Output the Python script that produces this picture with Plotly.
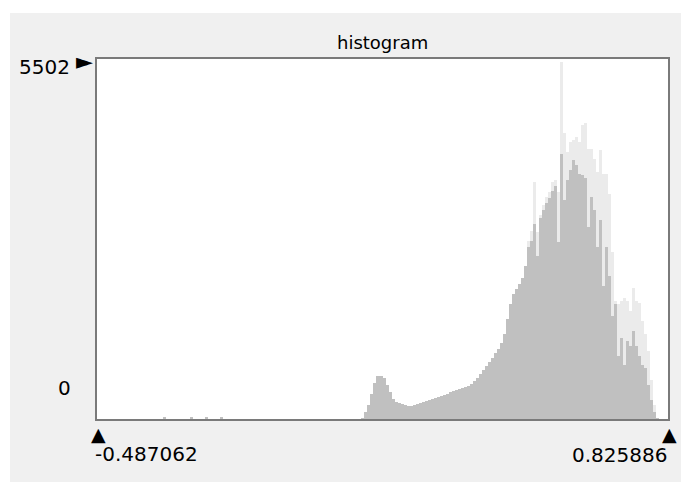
import numpy as np
import plotly.graph_objects as go

# ---- data ----
range_lo = -0.487062
range_hi = 0.825886
y_max_label = 5502
n_bins = 190

# counts per bin (solid grey), left to right
counts = ([0] * 22 + [20] + [0] * 8 + [20] + [0] * 4 + [20] + [0] * 4 + [20] + [0] * 46 +
          [15, 107, 214, 382, 550, 657, 657, 626, 520, 413,
           306, 260, 244, 229, 214, 199, 199, 214, 229, 244,
           260, 275, 290, 306, 321, 336, 352, 367, 382, 413,
           428, 443, 458, 474, 489, 504, 535, 581, 626, 687,
           749, 810, 886, 947, 1024, 1085, 1177, 1314, 1543, 1772,
           1925, 2002, 2078, 2170, 2353,
           2659, 2750, 3010, 2506, 3102, 3224, 3331, 3407, 3514, 3590,
           2735, 4079, 3377, 3682, 3835, 3988, 3912, 3774, 3759, 3713,
           2964, 3423, 3224, 2659, 3071, 2048, 2659, 2200, 1589, 1772,
           978, 1253, 825, 1207, 1131, 1360, 1131, 978, 825, 779,
           520, 290, 107, 15] + [0] * 3)

# per-bin peak (light fringe of sub-pixel spikes)
peaks = ([0] * 143 +
         [2750, 2900, 3652, 2888, 3150, 3300, 3420, 3500, 3652, 3682,
          3499, 5502, 4416, 4110, 4263, 4294, 4340, 4263, 4538, 4569,
          4156, 4156, 4003, 3805, 4141, 3774, 3774, 3469, 2582, 1818,
          1772, 1818, 1864, 1818, 1666, 2017, 1818, 1788, 1513, 1314,
          1054, 596, 214, 15] + [0] * 3)

label_top = "5502"
label_zero = "0"
label_lo = "-0.487062"
label_hi = "0.825886"
title_text = "histogram"

# ---- figure ----
width = (range_hi - range_lo) / n_bins
centers = range_lo + (np.arange(n_bins) + 0.5) * width

FONT = "DejaVu Sans"

fig = go.Figure()
fig.add_trace(go.Bar(x=centers, y=peaks, width=width, marker=dict(color="#ebebeb", line=dict(width=0)),
                     hoverinfo="skip"))
fig.add_trace(go.Bar(x=centers, y=counts, width=width, marker=dict(color="#c0c0c0", line=dict(width=0)),
                     hoverinfo="skip"))

fig.update_layout(
    width=681, height=482,
    margin=dict(l=97, r=13, t=59, b=63),
    paper_bgcolor="#f0f0f0",
    plot_bgcolor="white",
    barmode="overlay",
    bargap=0,
    showlegend=False,
    font=dict(family=FONT, color="black"),
    xaxis=dict(range=[range_lo, range_hi], showticklabels=False, showgrid=False, zeroline=False,
               showline=True, mirror=True, linecolor="#7a7a7a", linewidth=2, ticks=""),
    yaxis=dict(range=[0, 5550], showticklabels=False, showgrid=False, zeroline=False,
               showline=True, mirror=True, linecolor="#7a7a7a", linewidth=2, ticks=""),
    shapes=[
        dict(type="rect", xref="paper", yref="paper", x0=-0.2, x1=(10 - 97) / 571, y0=-0.3, y1=1.3,
             fillcolor="white", line=dict(width=0), layer="above"),
        dict(type="rect", xref="paper", yref="paper", x0=-0.2, x1=1.1, y0=(419 - 13) / 360, y1=1.3,
             fillcolor="white", line=dict(width=0), layer="above"),
    ],
    annotations=[
        dict(text=title_text, xref="paper", yref="paper", x=0.5, y=1, yanchor="bottom", yshift=4,
             showarrow=False, font=dict(size=18, family=FONT)),
        dict(text=label_top, xref="paper", yref="y", x=0, y=y_max_label, xanchor="right", yanchor="middle",
             xshift=-25, yshift=-5, showarrow=False, font=dict(size=20, family=FONT)),
        dict(text="►", xref="paper", yref="y", x=0, y=y_max_label, xanchor="right", yanchor="middle",
             xshift=-2, yshift=1, showarrow=False, font=dict(size=22, family=FONT)),
        dict(text=label_zero, xref="paper", yref="paper", x=0, y=0, xanchor="right", yanchor="middle",
             xshift=-24, yshift=31, showarrow=False, font=dict(size=20, family=FONT)),
        dict(text="▲", xref="x", yref="paper", x=range_lo, y=0, xanchor="center", yanchor="middle",
             xshift=1, yshift=-15, showarrow=False, font=dict(size=19, family=FONT)),
        dict(text="▲", xref="x", yref="paper", x=range_hi, y=0, xanchor="center", yanchor="middle",
             xshift=1, yshift=-15, showarrow=False, font=dict(size=19, family=FONT)),
        dict(text=label_lo, xref="x", yref="paper", x=range_lo, y=0, xanchor="left", yanchor="middle",
             xshift=-4, yshift=-35, showarrow=False, font=dict(size=20, family=FONT)),
        dict(text=label_hi, xref="x", yref="paper", x=range_hi, y=0, xanchor="right", yanchor="middle",
             xshift=1, yshift=-36, showarrow=False, font=dict(size=20, family=FONT)),
    ],
)

fig.write_html("out.html", config={"displayModeBar": False},
               post_script="document.body.style.margin='0';document.body.style.padding='0';")
